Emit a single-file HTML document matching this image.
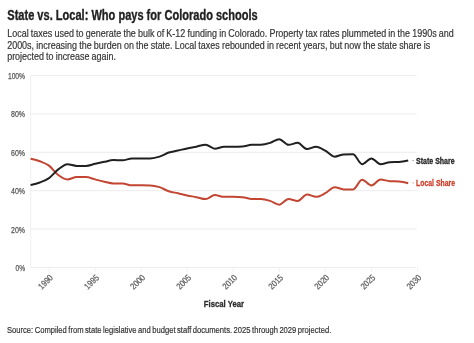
<!DOCTYPE html>
<html><head><meta charset="utf-8">
<style>
html,body{margin:0;padding:0;background:#fff;width:474px;height:343px;overflow:hidden}
svg{display:block;font-family:"Liberation Sans",sans-serif;filter:blur(0.35px)}
</style></head><body>
<svg width="474" height="343" viewBox="0 0 474 343">
<rect width="474" height="343" fill="#fff"/>
<text x="7.3" y="19.8" font-size="14.2" font-weight="bold" fill="#222" stroke="#222" stroke-width="0.35" textLength="250.4" lengthAdjust="spacingAndGlyphs">State vs. Local: Who pays for Colorado schools</text>
<g font-size="10.5" fill="#333" stroke="#333" stroke-width="0.18" word-spacing="-0.35">
<text x="7.2" y="36.6" textLength="446.6" lengthAdjust="spacingAndGlyphs">Local taxes used to generate the bulk of K-12 funding in Colorado. Property tax rates plummeted in the 1990s and</text>
<text x="7.2" y="48.5" textLength="423" lengthAdjust="spacingAndGlyphs">2000s, increasing the burden on the state. Local taxes rebounded in recent years, but now the state share is</text>
<text x="7.2" y="60.4" textLength="108.7" lengthAdjust="spacingAndGlyphs">projected to increase again.</text>
</g>
<g stroke="#ececec" stroke-width="1" fill="none">
<line x1="30.6" y1="75.5" x2="416.5" y2="75.5"/>
<line x1="30.6" y1="113.9" x2="416.5" y2="113.9"/>
<line x1="30.6" y1="152.3" x2="416.5" y2="152.3"/>
<line x1="30.6" y1="190.7" x2="416.5" y2="190.7"/>
<line x1="30.6" y1="229.1" x2="416.5" y2="229.1"/>
<line x1="30.6" y1="267.6" x2="416.5" y2="267.6"/>
<line x1="30.6" y1="75.5" x2="30.6" y2="267.6" stroke="#f2f2f2" stroke-width="1.3"/>
<line x1="49.0" y1="267.6" x2="49.0" y2="271.6" stroke="#f0f0f0"/>
<line x1="95.1" y1="267.6" x2="95.1" y2="271.6" stroke="#f0f0f0"/>
<line x1="141.1" y1="267.6" x2="141.1" y2="271.6" stroke="#f0f0f0"/>
<line x1="187.2" y1="267.6" x2="187.2" y2="271.6" stroke="#f0f0f0"/>
<line x1="233.2" y1="267.6" x2="233.2" y2="271.6" stroke="#f0f0f0"/>
<line x1="279.3" y1="267.6" x2="279.3" y2="271.6" stroke="#f0f0f0"/>
<line x1="325.3" y1="267.6" x2="325.3" y2="271.6" stroke="#f0f0f0"/>
<line x1="371.4" y1="267.6" x2="371.4" y2="271.6" stroke="#f0f0f0"/>
<line x1="417.4" y1="267.6" x2="417.4" y2="271.6" stroke="#f0f0f0"/>
</g>
<g font-size="9.3" fill="#555" stroke="#555" stroke-width="0.25" text-anchor="end">
<text x="25.1" y="78.9" textLength="17.2" lengthAdjust="spacingAndGlyphs">100%</text>
<text x="25.1" y="117.3" textLength="14.0" lengthAdjust="spacingAndGlyphs">80%</text>
<text x="25.1" y="155.7" textLength="14.0" lengthAdjust="spacingAndGlyphs">60%</text>
<text x="25.1" y="194.1" textLength="14.0" lengthAdjust="spacingAndGlyphs">40%</text>
<text x="25.1" y="232.5" textLength="14.0" lengthAdjust="spacingAndGlyphs">20%</text>
<text x="25.1" y="271.0" textLength="9.6" lengthAdjust="spacingAndGlyphs">0%</text>
</g>
<g font-size="8.9" fill="#5a5a5a" stroke="#5a5a5a" stroke-width="0.2" text-anchor="end">
<text transform="translate(53.5,278.2) rotate(-45)" textLength="16.6" lengthAdjust="spacingAndGlyphs">1990</text>
<text transform="translate(99.6,278.2) rotate(-45)" textLength="16.6" lengthAdjust="spacingAndGlyphs">1995</text>
<text transform="translate(145.6,278.2) rotate(-45)" textLength="16.6" lengthAdjust="spacingAndGlyphs">2000</text>
<text transform="translate(191.7,278.2) rotate(-45)" textLength="16.6" lengthAdjust="spacingAndGlyphs">2005</text>
<text transform="translate(237.7,278.2) rotate(-45)" textLength="16.6" lengthAdjust="spacingAndGlyphs">2010</text>
<text transform="translate(283.8,278.2) rotate(-45)" textLength="16.6" lengthAdjust="spacingAndGlyphs">2015</text>
<text transform="translate(329.8,278.2) rotate(-45)" textLength="16.6" lengthAdjust="spacingAndGlyphs">2020</text>
<text transform="translate(375.9,278.2) rotate(-45)" textLength="16.6" lengthAdjust="spacingAndGlyphs">2025</text>
<text transform="translate(421.9,278.2) rotate(-45)" textLength="16.6" lengthAdjust="spacingAndGlyphs">2030</text>
</g>
<text x="223.9" y="307.4" font-size="9.9" font-weight="bold" fill="#2b2b2b" stroke="#2b2b2b" stroke-width="0.3" text-anchor="middle" textLength="40.3" lengthAdjust="spacingAndGlyphs">Fiscal Year</text>
<text x="6.9" y="332.8" font-size="9.7" fill="#333" stroke="#333" stroke-width="0.2" word-spacing="-0.8" textLength="324.4" lengthAdjust="spacingAndGlyphs">Source: Compiled from state legislative and budget staff documents. 2025 through 2029 projected.</text>
<path d="M30.60,158.70C33.67,159.43,36.74,160.15,39.81,161.30C42.88,162.45,45.95,163.32,49.02,165.60C52.09,167.88,55.16,172.70,58.23,175.00C61.30,177.30,64.37,179.40,67.44,179.40C70.51,179.40,73.58,177.10,76.65,177.10C79.72,177.10,82.79,177.10,85.86,177.10C88.93,177.10,92.00,178.57,95.07,179.35C98.14,180.12,101.21,181.06,104.28,181.75C107.35,182.44,110.42,183.50,113.49,183.50C116.56,183.50,119.63,183.50,122.70,183.50C125.77,183.50,128.84,185.35,131.91,185.35C134.98,185.35,138.05,185.35,141.12,185.35C144.19,185.35,147.26,185.37,150.33,185.40C153.40,185.43,156.47,186.18,159.54,187.15C162.61,188.12,165.68,190.23,168.75,191.25C171.82,192.27,174.89,192.56,177.96,193.25C181.03,193.94,184.10,194.75,187.17,195.40C190.24,196.05,193.31,196.53,196.38,197.15C199.45,197.77,202.52,199.10,205.59,199.10C208.66,199.10,211.73,195.10,214.80,195.10C217.87,195.10,220.94,196.85,224.01,196.85C227.08,196.85,230.15,196.85,233.22,196.85C236.29,196.85,239.36,196.95,242.43,197.15C245.50,197.35,248.57,198.88,251.64,198.95C254.71,199.02,257.78,198.98,260.85,199.05C263.92,199.12,266.99,199.97,270.06,200.90C273.13,201.83,276.20,204.65,279.27,204.65C282.34,204.65,285.41,198.95,288.48,198.95C291.55,198.95,294.62,200.95,297.69,200.95C300.76,200.95,303.83,194.50,306.90,194.50C309.97,194.50,313.04,196.80,316.11,196.80C319.18,196.80,322.25,194.76,325.32,193.15C328.39,191.54,331.46,187.15,334.53,187.15C337.60,187.15,340.67,189.30,343.74,189.40C346.81,189.50,349.88,189.55,352.95,189.55C356.02,189.55,359.09,179.65,362.16,179.65C365.23,179.65,368.30,185.40,371.37,185.40C374.44,185.40,377.51,179.60,380.58,179.60C383.65,179.60,386.72,181.07,389.79,181.20C392.86,181.33,395.93,181.27,399.00,181.40C402.07,181.53,405.14,182.39,408.21,183.25" fill="none" stroke="#c24632" stroke-width="2.0" stroke-linejoin="round" stroke-linecap="butt"/>
<path d="M30.60,185.10C33.67,184.38,36.74,183.67,39.81,182.50C42.88,181.33,45.95,180.28,49.02,178.10C52.09,175.92,55.16,171.72,58.23,169.40C61.30,167.08,64.37,164.20,67.44,164.20C70.51,164.20,73.58,165.90,76.65,165.90C79.72,165.90,82.79,165.90,85.86,165.90C88.93,165.90,92.00,164.52,95.07,163.85C98.14,163.17,101.21,162.48,104.28,161.85C107.35,161.23,110.42,160.10,113.49,160.10C116.56,160.10,119.63,160.30,122.70,160.30C125.77,160.30,128.84,158.45,131.91,158.45C134.98,158.45,138.05,158.45,141.12,158.45C144.19,158.45,147.26,158.43,150.33,158.40C153.40,158.37,156.47,157.62,159.54,156.65C162.61,155.68,165.68,153.57,168.75,152.55C171.82,151.53,174.89,151.24,177.96,150.55C181.03,149.86,184.10,149.05,187.17,148.40C190.24,147.75,193.31,147.27,196.38,146.65C199.45,146.03,202.52,144.70,205.59,144.70C208.66,144.70,211.73,148.70,214.80,148.70C217.87,148.70,220.94,146.75,224.01,146.75C227.08,146.75,230.15,146.75,233.22,146.75C236.29,146.75,239.36,146.65,242.43,146.45C245.50,146.25,248.57,144.92,251.64,144.85C254.71,144.78,257.78,144.82,260.85,144.75C263.92,144.68,266.99,143.83,270.06,142.90C273.13,141.97,276.20,139.15,279.27,139.15C282.34,139.15,285.41,144.85,288.48,144.85C291.55,144.85,294.62,142.85,297.69,142.85C300.76,142.85,303.83,149.00,306.90,149.00C309.97,149.00,313.04,146.70,316.11,146.70C319.18,146.70,322.25,148.99,325.32,150.65C328.39,152.31,331.46,156.65,334.53,156.65C337.60,156.65,340.67,154.50,343.74,154.40C346.81,154.30,349.88,154.25,352.95,154.25C356.02,154.25,359.09,164.15,362.16,164.15C365.23,164.15,368.30,158.40,371.37,158.40C374.44,158.40,377.51,164.20,380.58,164.20C383.65,164.20,386.72,162.33,389.79,162.20C392.86,162.07,395.93,162.13,399.00,162.00C402.07,161.87,405.14,161.21,408.21,160.55" fill="none" stroke="#202020" stroke-width="2.0" stroke-linejoin="round" stroke-linecap="butt"/>
<line x1="412.3" y1="160.6" x2="413.8" y2="160.6" stroke="#888" stroke-width="0.8"/>
<line x1="412.3" y1="183" x2="413.8" y2="183" stroke="#d98070" stroke-width="0.8"/>
<text x="416.1" y="163.7" font-size="9.4" font-weight="bold" fill="#1e1e1e" stroke="#1e1e1e" stroke-width="0.3" textLength="38.5" lengthAdjust="spacingAndGlyphs">State Share</text>
<text x="416.1" y="186.4" font-size="9.4" font-weight="bold" fill="#cc3f2a" stroke="#cc3f2a" stroke-width="0.3" textLength="38.9" lengthAdjust="spacingAndGlyphs">Local Share</text>
</svg>
</body></html>
